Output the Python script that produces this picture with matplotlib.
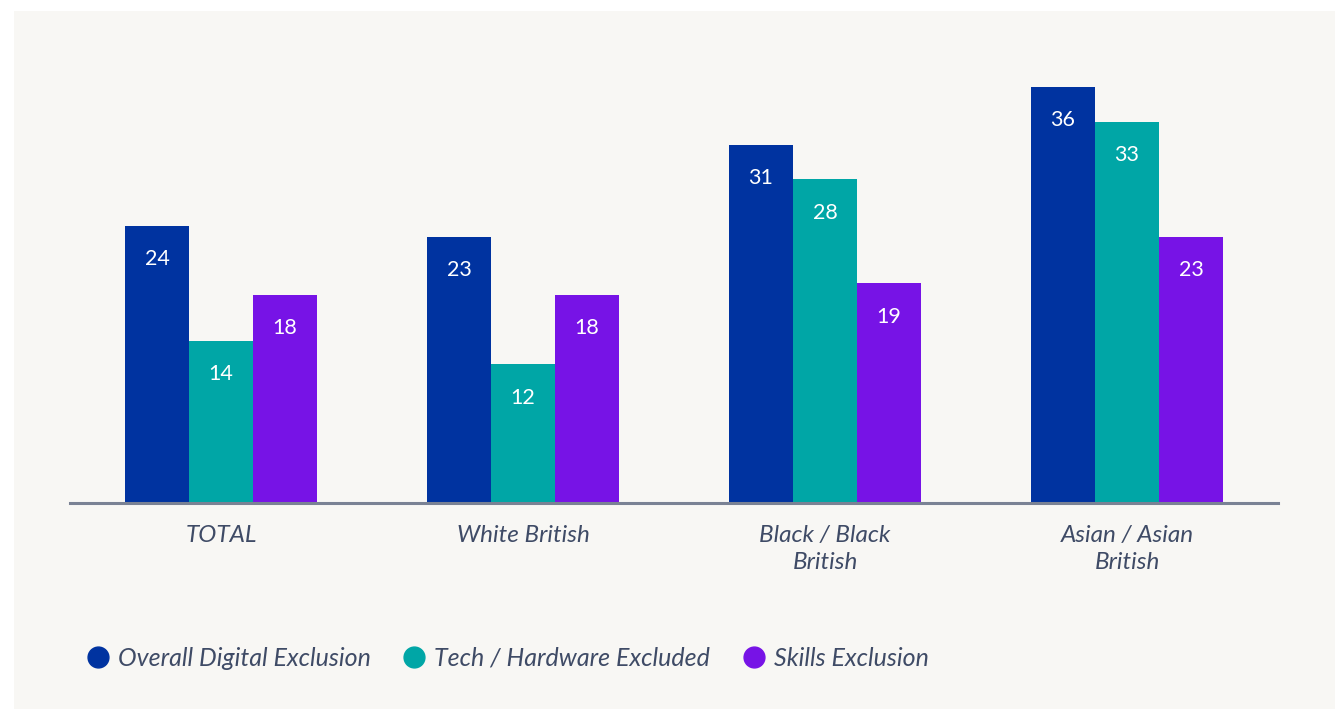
import numpy as np
import matplotlib.pyplot as plt
from matplotlib.patches import Rectangle
from matplotlib.lines import Line2D

categories = ["TOTAL", "White British", "Black / Black\nBritish", "Asian / Asian\nBritish"]
series_names = ["Overall Digital Exclusion", "Tech / Hardware Excluded", "Skills Exclusion"]
overall = [24, 23, 31, 36]
tech = [14, 12, 28, 33]
skills = [18, 18, 19, 23]

colors = ["#0033a0", "#00a6a6", "#7713e6"]
text_color = "#3f4b66"
bg = "#f8f7f4"

plt.rcParams['font.family'] = ['Lato', 'DejaVu Sans']

W, H = 1335, 709
fig = plt.figure(figsize=(W / 100, H / 100), dpi=100)
fig.patch.set_facecolor("white")
fig.patches.append(Rectangle((14 / W, 0), 1, 1 - 11 / H,
                             transform=fig.transFigure, facecolor=bg,
                             edgecolor="none", zorder=-5))

# axes: x from 70 to 1278 px, y=0 at 503 px, 11.56 px per unit
ymax = 38
top_px = 503 - ymax * 11.56
ax = fig.add_axes([70 / W, (H - 503) / H, (1278 - 70) / W, (503 - top_px) / H])
ax.set_facecolor("none")

x = np.arange(len(categories))
width = 0.212
for i, (vals, col) in enumerate(zip([overall, tech, skills], colors)):
    pos = x + (i - 1) * width
    ax.bar(pos, vals, width=width, color=col, zorder=2)
    for px, v in zip(pos, vals):
        ax.annotate(str(v), (px, v), xytext=(0, -24), textcoords="offset points",
                    ha="center", va="center", color="white", fontsize=15.5,
                    zorder=3)

ax.set_xlim(-0.5, 3.5)
ax.set_ylim(0, ymax)
ax.set_yticks([])
ax.set_xticks(x)
ax.set_xticklabels(categories, fontsize=17.5, style="italic", color=text_color,
                   linespacing=1.35, va="top")
ax.tick_params(axis="x", length=0, pad=16)
for s in ["top", "right", "left"]:
    ax.spines[s].set_visible(False)
ax.spines["bottom"].set_color("#7a8294")
ax.spines["bottom"].set_linewidth(2.2)
ax.spines["bottom"].set_zorder(4)

handles = [Line2D([], [], marker="o", linestyle="none", markersize=15,
                  markerfacecolor=c, markeredgecolor=c) for c in colors]
leg = fig.legend(handles, series_names, loc="center left",
                 bbox_to_anchor=(60 / W, 1 - 658 / H), ncol=3, frameon=False,
                 handletextpad=0.2, columnspacing=1.15, handlelength=1.2,
                 prop={"size": 18, "style": "italic"})
for t in leg.get_texts():
    t.set_color(text_color)

fig.savefig("out.png", dpi=100, facecolor=fig.get_facecolor())
